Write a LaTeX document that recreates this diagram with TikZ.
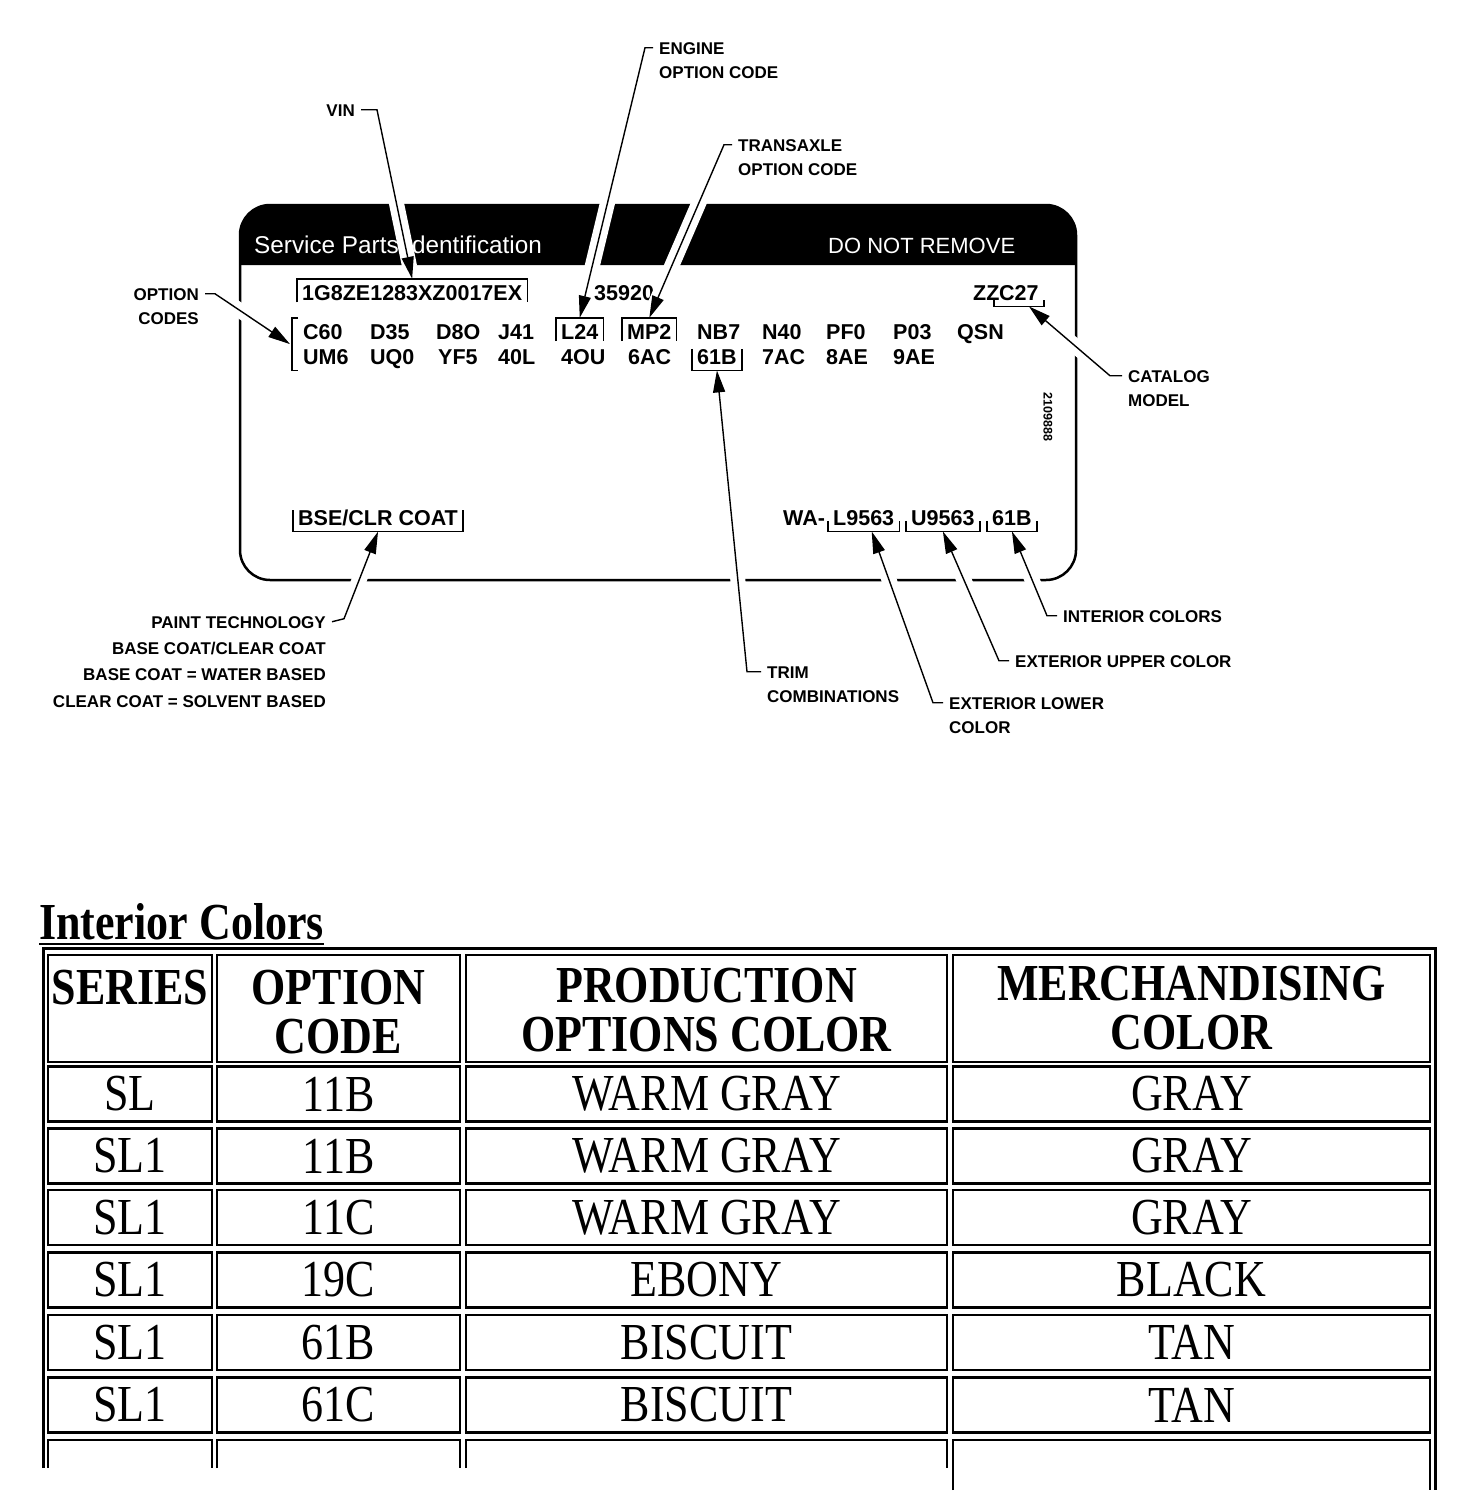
\documentclass[tikz,border=0pt]{standalone}
\usepackage{fontspec}
\setmainfont{Liberation Serif}
\setsansfont{Liberation Sans}
\usepackage{graphicx}
\usetikzlibrary{arrows.meta, positioning, calc}

\newcommand{\codefont}{\sffamily\bfseries\fontsize{21.5}{24}\selectfont}
\newcommand{\calloutfont}{\sffamily\bfseries\fontsize{17}{20}\selectfont}
\newcommand{\bannerfont}{\sffamily\fontsize{24.3}{26}\selectfont}
\newcommand{\tablefont}{\rmfamily\fontsize{44}{40}\selectfont}
\newcommand{\stretched}[1]{\scalebox{1}[1.18]{#1}}
% box over a code, bracket under a code
\newcommand{\codebox}[1]{\draw[frame] ([yshift=4pt]#1.south west) |- (#1.north east) -- ([yshift=4pt]#1.south east);}
\newcommand{\codebracket}[2]{\draw[frame] ([yshift=-#2]#1.north west) |- (#1.south east) -- ([yshift=-#2]#1.north east);}

\begin{document}
\begin{tikzpicture}[x=1pt, y=-1pt,
    code/.style={font=\codefont, inner xsep=5pt, inner ysep=6pt, anchor=base west},
    callout/.style={font=\calloutfont, inner sep=1pt, text height=12.5pt, text depth=0pt},
    frame/.style={line width=1.5pt},
    leader/.style={line width=1.4pt, -{Triangle[length=22pt,width=12pt]},
        preaction={draw=white, line width=15pt, line join=round, -, shorten >=#1}},
    leader/.default=26pt,
    cell/.style={draw, line width=2.5pt, minimum height=55pt, inner sep=0pt, font=\tablefont},
    headtext/.style={font=\tablefont\bfseries, inner sep=0pt, anchor=north}
]
    \fill[white] (0,0) rectangle (1472,1500);
    \useasboundingbox (0,0) rectangle (1472,1500);

    % Label card
    \draw[line width=2.5pt, rounded corners=30pt] (240,205) rectangle (1076,580);
    \fill (240,265) [rounded corners=30pt] -- (240,205) -- (1076,205) [sharp corners] -- (1076,265) -- cycle;
    \node[font=\bannerfont, text=white, anchor=base west, inner sep=0pt] (banner) at (254,253) {Service Parts Identification};
    \node[font=\bannerfont\fontsize{22}{26}\selectfont, text=white, anchor=base west, inner sep=0pt] (keep) at (828,253) {DO NOT REMOVE};

    % Codes
    \node[code] (vincode) at (297,300) {1G8ZE1283XZ0017EX};
    \node[code] (serial) at (589,300) {35920};
    \node[code] (zz) at (968,300) {ZZ};
    \node[code] (c27) at (994,300) {C27};
    \foreach \x/\txt in {298/C60, 365/D35, 431/D8O, 493/J41, 556/L24, 622/MP2, 692/NB7, 757/N40, 821/PF0, 888/P03, 952/QSN}
        \node[code] (r1-\txt) at (\x,339) {\txt};
    \foreach \x/\txt in {298/UM6, 365/UQ0, 433/YF5, 493/40L, 556/4OU, 623/6AC, 692/61B, 757/7AC, 821/8AE, 888/9AE}
        \node[code] (r2-\txt) at (\x,364) {\txt};
    \node[code] (bse) at (293,525) {BSE/CLR COAT};
    \node[code] (wa) at (778,525) {WA-};
    \node[code] (l9563) at (828,525) {L9563};
    \node[code] (u9563) at (906,525) {U9563};
    \node[code] (int61b) at (987,525) {61B};
    \node[font=\sffamily\bfseries\fontsize{12.5}{14}\selectfont, rotate=-90, inner sep=0pt] (partno) at (1048,417) {2109888};

    % Brackets
    \codebox{vincode}
    \codebox{r1-L24}
    \codebox{r1-MP2}
    \codebracket{c27}{21pt}
    \codebracket{r2-61B}{6pt}
    \codebracket{bse}{7pt}
    \codebracket{l9563}{17pt}
    \codebracket{u9563}{17pt}
    \codebracket{int61b}{17pt}
    \draw[frame] (r1-C60.north west) -- ++(-6,0) |- (r2-UM6.south west);
    \coordinate (optbr) at ($(r1-C60.north west)!0.5!(r2-UM6.south west) + (-8,0)$);

    % Callouts
    \node[callout, anchor=base east] (vinlabel) at (356,116) {VIN};
    \node[callout, anchor=base west] (engine) at (658,54) {ENGINE};
    \node[callout, below=10pt of engine.south west, anchor=north west] (engine2) {OPTION CODE};
    \node[callout, anchor=base west] (transaxle) at (737,151) {TRANSAXLE};
    \node[callout, below=10pt of transaxle.south west, anchor=north west] (transaxle2) {OPTION CODE};
    \node[callout, anchor=base east] (optlabel) at (200,300) {OPTION};
    \node[callout, below=10pt of optlabel.south east, anchor=north east] (optlabel2) {CODES};
    \node[callout, anchor=base west] (catalog) at (1127,382) {CATALOG};
    \node[callout, below=10pt of catalog.south west, anchor=north west] (catalog2) {MODEL};
    \node[callout, anchor=base west] (trim) at (766,678) {TRIM};
    \node[callout, below=10pt of trim.south west, anchor=north west] (trim2) {COMBINATIONS};
    \node[callout, anchor=base west] (extlower) at (948,709) {EXTERIOR LOWER};
    \node[callout, below=10pt of extlower.south west, anchor=north west] (extlower2) {COLOR};
    \node[callout, anchor=base west] (extupper) at (1014,667) {EXTERIOR UPPER COLOR};
    \node[callout, anchor=base west] (interior) at (1062,622) {INTERIOR COLORS};
    \node[callout, anchor=base east] (paint) at (327,628) {PAINT TECHNOLOGY};
    \node[callout, below=11.5pt of paint.south east, anchor=north east] (paint2) {BASE COAT/CLEAR COAT};
    \node[callout, below=11.5pt of paint2.south east, anchor=north east] (paint3) {BASE COAT = WATER BASED};
    \node[callout, below=11.5pt of paint3.south east, anchor=north east] (paint4) {CLEAR COAT = SOLVENT BASED};

    % Leaders
    \draw[leader=12pt] ([xshift=5pt]vinlabel.east) -- ++(16,0) -- (vincode.north);
    \draw[leader] ([xshift=-5pt]engine.west) -- ++(-8,0) -- (r1-L24.north);
    \draw[leader=16pt] ([xshift=-5pt]transaxle.west) -- ++(-8,0) -- (r1-MP2.north);
    \draw[leader] ([xshift=5pt]optlabel.east) -- ++(10,0) -- (optbr);
    \draw[leader] ([xshift=-5pt]catalog.west) -- ++(-12,0) -- ([xshift=10pt]c27.south);
    \draw[leader] ([xshift=-5pt]trim.west) -- ++(-14,0) -- (r2-61B.south);
    \draw[leader] ([xshift=-5pt]extlower.west) -- ++(-10,0) -- ([xshift=8pt]l9563.south);
    \draw[leader] ([xshift=-5pt]extupper.west) -- ++(-10,0) -- (u9563.south);
    \draw[leader] ([xshift=-5pt]interior.west) -- ++(-10,0) -- (int61b.south);
    \draw[leader] ([xshift=5pt]paint.east) -- ++(12,-3) -- (bse.south);

    % Table
    \node[font=\tablefont\bfseries, anchor=base west, inner sep=0pt] (title) at (39,939) {\stretched{Interior Colors}};
    \draw[line width=2pt] ([yshift=-4pt]title.south west) -- ([yshift=-4pt]title.south east);
    \draw[line width=3pt] (43,1468) -- (43,948) -- (1435,948) -- (1435,1490);

    \node[cell, minimum width=164pt, minimum height=107pt] (hser) at (130,1008.5) {};
    \node[cell, minimum width=243pt, minimum height=107pt] (hopt) at (338.5,1008.5) {};
    \node[cell, minimum width=481pt, minimum height=107pt] (hprod) at (706.5,1008.5) {};
    \node[cell, minimum width=477pt, minimum height=107pt] (hmerch) at (1191.5,1008.5) {};
    \node[headtext] (hser-t) at (130,970) {\stretched{\begin{tabular}{@{}c@{}}SERIES\end{tabular}}};
    \node[headtext] (hopt-t) at (338.5,970) {\stretched{\begin{tabular}{@{}c@{}}OPTION\\CODE\end{tabular}}};
    \node[headtext] (hprod-t) at (706.5,968) {\stretched{\begin{tabular}{@{}c@{}}PRODUCTION\\OPTIONS COLOR\end{tabular}}};
    \node[headtext] (hmerch-t) at (1191.5,966) {\stretched{\begin{tabular}{@{}c@{}}MERCHANDISING\\COLOR\end{tabular}}};

    \foreach \n/\y/\ser/\opt/\pcol/\mcol in {
        1/1094/SL/11B/WARM GRAY/GRAY,
        2/1156/SL1/11B/WARM GRAY/GRAY,
        3/1217.5/SL1/11C/WARM GRAY/GRAY,
        4/1280/SL1/19C/EBONY/BLACK,
        5/1342.5/SL1/61B/BISCUIT/TAN,
        6/1405/SL1/61C/BISCUIT/TAN}
    {
        \node[cell, minimum width=164pt] (ser\n) at (130,\y) {\stretched{\ser}};
        \node[cell, minimum width=243pt] (opt\n) at (338.5,\y) {\stretched{\opt}};
        \node[cell, minimum width=481pt] (prod\n) at (706.5,\y) {\stretched{\pcol}};
        \node[cell, minimum width=477pt] (merch\n) at (1191.5,\y) {\stretched{\mcol}};
    }
    \foreach \l/\r in {48/212, 217/460, 466/947}
        \draw[line width=2.5pt] (\l,1468) |- (\r,1440) -- (\r,1468);
    \draw[line width=2.5pt] (953,1490) |- (1430,1440) -- (1430,1490);
\end{tikzpicture}
\end{document}
